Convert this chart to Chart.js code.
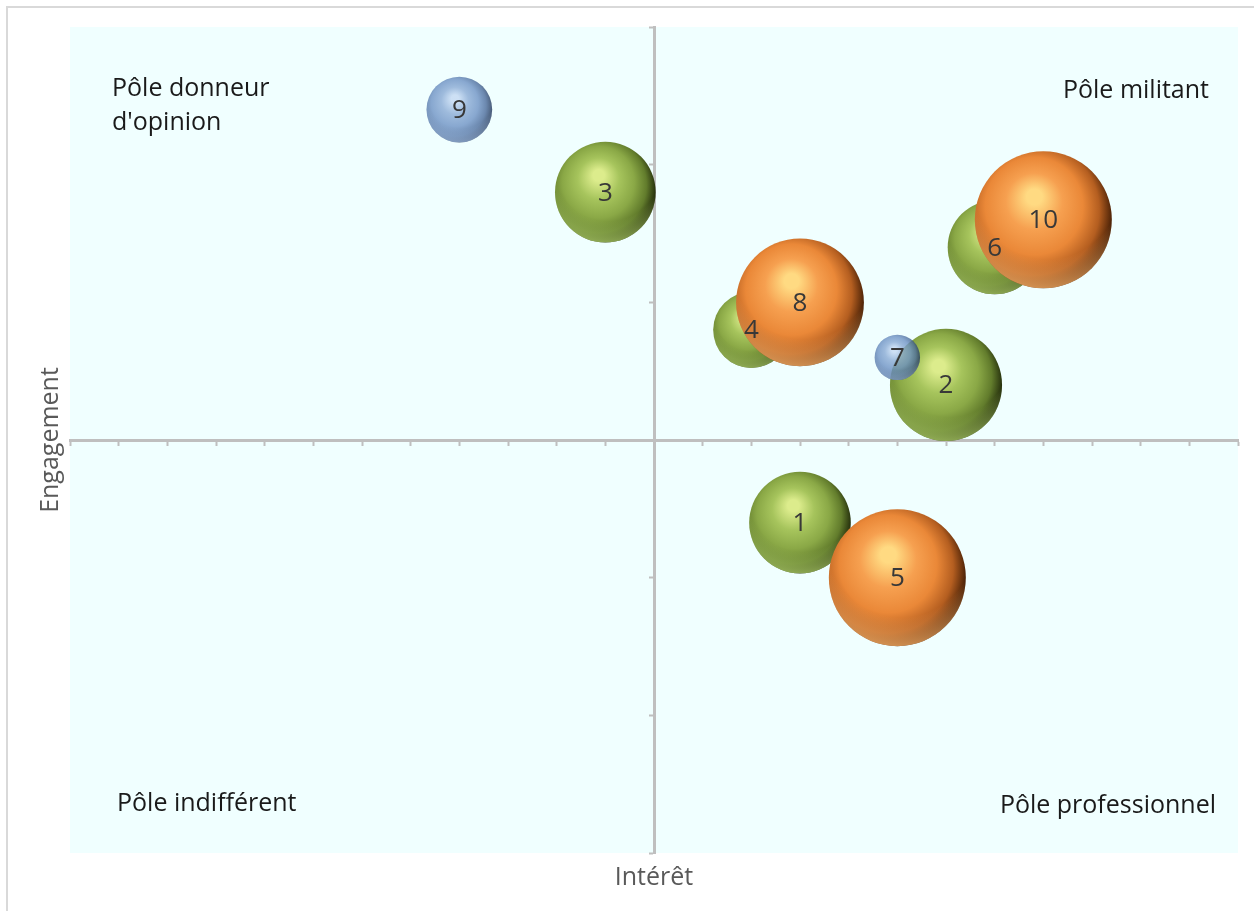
<!DOCTYPE html>
<html lang="fr">
<head>
<meta charset="utf-8">
<title>Pôles d'engagement</title>
<script src="https://cdn.jsdelivr.net/npm/chart.js@4/dist/chart.umd.min.js"></script>
<style>
  html, body { margin: 0; padding: 0; background: #ffffff; }
  #wrap { position: relative; width: 1254px; height: 911px; }
  #frame { position: absolute; left: 6px; top: 6px; width: 1260px; height: 920px;
           border-left: 2px solid #d9d9d9; border-top: 2px solid #d9d9d9; box-sizing: border-box; }
  canvas { position: absolute; left: 0; top: 0; }
</style>
</head>
<body>
<div id="wrap">
  <div id="frame"></div>
  <canvas id="chart" width="1254" height="911"></canvas>
</div>
<script>
// Ten profiles placed by interest (x) and engagement (y); size drives bubble area.
const labels     = ['1', '2', '3', '4', '5', '6', '7', '8', '9', '10'];
const interet    = [3, 6, -1, 2, 5, 7, 5, 3, -4, 8];
const engagement = [-0.6, 0.4, 1.8, 0.8, -1.0, 1.4, 0.6, 1.0, 2.4, 1.6];
const taille     = [55, 67, 54, 31, 100, 47, 11, 87, 23, 100];
const groupe     = ['vert', 'vert', 'vert', 'vert', 'orange', 'vert', 'bleu', 'orange', 'bleu', 'orange'];

// Drawing order: first dataset ends up on top.
const groupes = ['bleu', 'orange', 'vert'];

const quadrants = [
  { lines: ['Pôle donneur', "d'opinion"], corner: 'tl' },
  { lines: ['Pôle militant'], corner: 'tr' },
  { lines: ['Pôle indifférent'], corner: 'bl' },
  { lines: ['Pôle professionnel'], corner: 'br' }
];

const FONT = '"Open Sans", "DejaVu Sans", sans-serif';
const MAX_RADIUS = 68.5;
const maxTaille = Math.max(...taille);

const palettes = {
  vert:   { hi: [220, 236, 140], mid: [166, 196, 92], base: [138, 168, 70], shade: [98, 124, 44], dark: [36, 46, 12], rim: [172, 204, 104], alpha: 1 },
  orange: { hi: [255, 218, 130], mid: [246, 160, 80], base: [234, 136, 56], shade: [180, 94, 32], dark: [72, 32, 6], rim: [246, 176, 104], alpha: 1 },
  bleu:   { hi: [196, 216, 242], mid: [138, 170, 212], base: [110, 146, 196], shade: [74, 106, 154], dark: [30, 50, 86], rim: [160, 190, 228], alpha: 0.8 }
};

function rgba(c, a) { return 'rgba(' + c[0] + ',' + c[1] + ',' + c[2] + ',' + a + ')'; }

function sphereFill(context, pal) {
  const chart = context.chart;
  const raw = context.raw;
  if (!chart.chartArea || !raw || !chart.scales.x || !chart.scales.y) return rgba(pal.base, pal.alpha);
  const cx = chart.scales.x.getPixelForValue(raw.x);
  const cy = chart.scales.y.getPixelForValue(raw.y);
  const r = raw.r;
  const g = chart.ctx.createRadialGradient(cx - 0.13 * r, cy - 0.36 * r, 0, cx - 0.14 * r, cy - 0.1 * r, 1.15 * r);
  const a = pal.alpha;
  g.addColorStop(0.0, rgba(pal.hi, a));
  g.addColorStop(0.1, rgba(pal.hi, a));
  g.addColorStop(0.36, rgba(pal.mid, a));
  g.addColorStop(0.62, rgba(pal.base, a));
  g.addColorStop(0.83, rgba(pal.shade, a));
  g.addColorStop(1.0, rgba(pal.dark, a));
  return g;
}

const datasets = groupes.map(function (grp) {
  const pal = palettes[grp];
  const pts = [];
  labels.forEach(function (lab, i) {
    if (groupe[i] !== grp) return;
    pts.push({ x: interet[i], y: engagement[i], r: MAX_RADIUS * Math.sqrt(taille[i] / maxTaille), label: lab });
  });
  return {
    label: grp,
    data: pts,
    backgroundColor: function (ctx) { return sphereFill(ctx, pal); },
    borderWidth: 0,
    hoverBorderWidth: 0,
    palette: grp
  };
});

// Plot area tint, drawn behind everything.
const plotBackground = {
  id: 'plotBackground',
  beforeDraw(chart) {
    const { ctx, chartArea: a } = chart;
    ctx.save();
    ctx.fillStyle = '#f0ffff';
    ctx.fillRect(a.left, a.top, a.right - a.left, a.bottom - a.top);
    ctx.restore();
  }
};

// Soft reflected light along the lower rim of each sphere.
const sphereRim = {
  id: 'sphereRim',
  afterDatasetDraw(chart, args) {
    const ds = chart.data.datasets[args.index];
    const pal = palettes[ds.palette];
    const ctx = chart.ctx;
    args.meta.data.forEach(function (el) {
      const r = el.options.radius;
      const cx = el.x, cy = el.y;
      ctx.save();
      ctx.beginPath();
      ctx.arc(cx, cy, r, 0, Math.PI * 2);
      ctx.clip();
      const g = ctx.createRadialGradient(cx + 0.05 * r, cy - 0.5 * r, 1.08 * r, cx + 0.05 * r, cy - 0.5 * r, 1.5 * r);
      g.addColorStop(0, rgba(pal.rim, 0));
      g.addColorStop(1, rgba(pal.rim, 0.75 * pal.alpha));
      ctx.fillStyle = g;
      ctx.fillRect(cx - r, cy - r, 2 * r, 2 * r);
      ctx.restore();
    });
  }
};

// Bubble numbers, quadrant names and axis titles.
const annotations = {
  id: 'annotations',
  afterDatasetsDraw(chart) {
    const ctx = chart.ctx;
    const a = chart.chartArea;
    ctx.save();
    ctx.fillStyle = '#383838';
    ctx.font = '26px ' + FONT;
    ctx.textAlign = 'center';
    ctx.textBaseline = 'middle';
    chart.data.datasets.forEach(function (ds, di) {
      const meta = chart.getDatasetMeta(di);
      meta.data.forEach(function (el, i) {
        ctx.fillText(ds.data[i].label, el.x, el.y + 1);
      });
    });

    ctx.fillStyle = '#1a1a1a';
    ctx.font = '25px ' + FONT;
    ctx.textBaseline = 'alphabetic';
    quadrants.forEach(function (q) {
      let x, y;
      const lh = 34;
      if (q.corner === 'tl') { ctx.textAlign = 'left'; x = a.left + 42; y = a.top + 69; }
      if (q.corner === 'tr') { ctx.textAlign = 'right'; x = a.right - 29; y = a.top + 71; }
      if (q.corner === 'bl') { ctx.textAlign = 'left'; x = a.left + 47; y = a.bottom - 42; }
      if (q.corner === 'br') { ctx.textAlign = 'right'; x = a.right - 22; y = a.bottom - 40; }
      q.lines.forEach(function (line, k) { ctx.fillText(line, x, y + k * lh); });
    });

    ctx.fillStyle = '#595959';
    ctx.font = '25px ' + FONT;
    ctx.textAlign = 'center';
    ctx.fillText('Intérêt', (a.left + a.right) / 2, a.bottom + 32);
    ctx.translate(a.left - 12, (a.top + a.bottom) / 2);
    ctx.rotate(-Math.PI / 2);
    ctx.fillText('Engagement', 0, 0);
    ctx.restore();
  }
};

new Chart(document.getElementById('chart'), {
  type: 'bubble',
  data: { datasets: datasets },
  options: {
    responsive: false,
    animation: false,
    clip: false,
    layout: { autoPadding: false, padding: { left: 70, right: 16, top: 27, bottom: 58 } },
    plugins: { legend: { display: false }, tooltip: { enabled: false } },
    events: [],
    scales: {
      x: {
        type: 'linear',
        min: -12, max: 12,
        position: { y: 0 },
        ticks: { display: false, stepSize: 1 },
        grid: { drawOnChartArea: false, drawTicks: true, tickLength: 4, tickWidth: 2, color: '#bfbfbf' },
        border: { display: true, color: '#bfbfbf', width: 3 }
      },
      y: {
        type: 'linear',
        min: -3, max: 3,
        position: { x: 0 },
        ticks: { display: false, stepSize: 1 },
        grid: { drawOnChartArea: false, drawTicks: true, tickLength: 4, tickWidth: 2, color: '#bfbfbf' },
        border: { display: true, color: '#bfbfbf', width: 3 }
      }
    }
  },
  plugins: [plotBackground, sphereRim, annotations]
});
</script>
</body>
</html>
